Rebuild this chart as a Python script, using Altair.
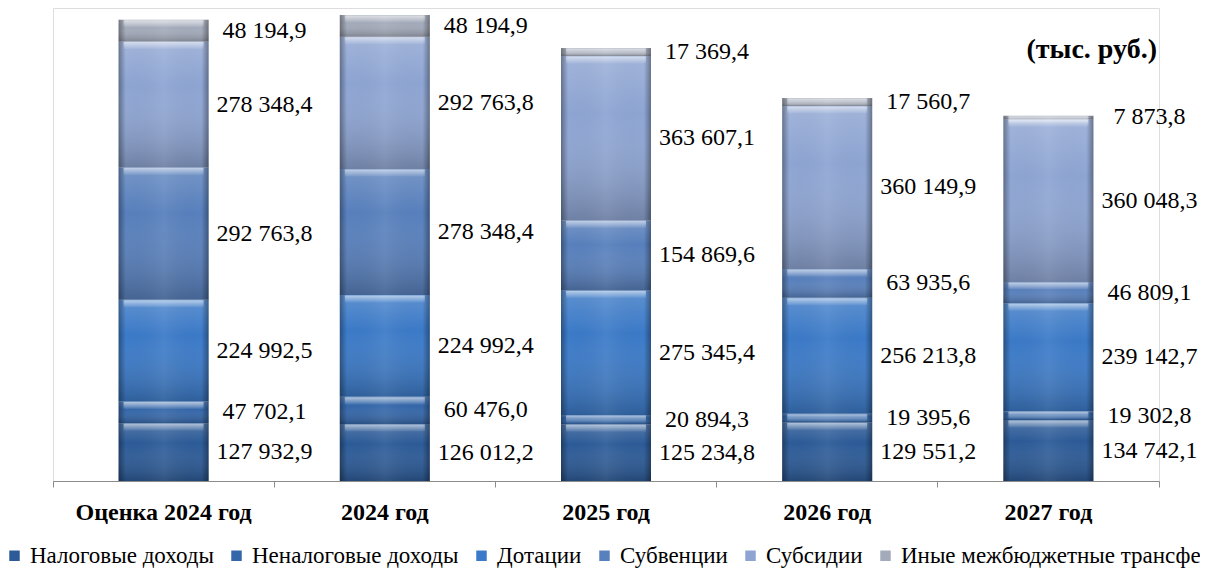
import altair as alt
import pandas as pd

categories = ["Оценка 2024 год", "2024 год", "2025 год", "2026 год", "2027 год"]
series = ["Налоговые доходы", "Неналоговые доходы", "Дотации", "Субвенции",
          "Субсидии", "Иные межбюджетные трансферты"]

nalog = [127932.9, 126012.2, 125234.8, 129551.2, 134742.1]
nenalog = [47702.1, 60476.0, 20894.3, 19395.6, 19302.8]
dotacii = [224992.5, 224992.4, 275345.4, 256213.8, 239142.7]
subvencii = [292763.8, 278348.4, 154869.6, 63935.6, 46809.1]
subsidii = [278348.4, 292763.8, 363607.1, 360149.9, 360048.3]
inye = [48194.9, 48194.9, 17369.4, 17560.7, 7873.8]
values = [nalog, nenalog, dotacii, subvencii, subsidii, inye]

colors = ["#2c5b98", "#3467aa", "#3b7ac8", "#5880bd", "#8ea5d3", "#a3aaba"]
unit_note = "(тыс. руб.)"


def fmt(v):
    return f"{v:,.1f}".replace(",", " ").replace(".", ",")


rows = []
for i, s in enumerate(series):
    for j, c in enumerate(categories):
        rows.append({"cat": c, "series": s, "idx": i, "value": values[i][j],
                     "label": fmt(values[i][j])})
df = pd.DataFrame(rows)

FONT = "Liberation Serif, Times New Roman, serif"

base = alt.Chart(df).transform_stack(
    stack="value", groupby=["cat"], as_=["y0", "y1"],
    sort=[alt.SortField("idx", order="ascending")]
).transform_calculate(mid="(datum.y0 + datum.y1) / 2")

xenc = alt.X("cat:N", sort=categories,
             scale=alt.Scale(paddingInner=0, paddingOuter=0),
             axis=alt.Axis(title=None, labelAngle=0, labelFont=FONT, labelFontSize=24,
                           labelFontWeight="bold", labelColor="black", labelPadding=13,
                           domainColor="#8c8c8c", tickColor="#8c8c8c", tickSize=6,
                           bandPosition=1, tickExtra=True, grid=False))
yscale = alt.Scale(domain=[0, 1046000], nice=False, zero=True)
yenc = alt.Y("y0:Q", scale=yscale, axis=None)
y2enc = alt.Y2("y1:Q")

bars = base.mark_bar(width=90).encode(
    x=xenc, y=yenc, y2=y2enc,
    color=alt.Color("series:N", scale=alt.Scale(domain=series, range=colors),
                    legend=alt.Legend(title=None, orient="none", legendX=-50, legendY=536,
                                      direction="horizontal", symbolType="square",
                                      symbolSize=110, symbolStrokeWidth=0,
                                      labelFont=FONT, labelFontSize=23, labelColor="black",
                                      labelLimit=700, columnPadding=11, labelOffset=4)),
    order=alt.Order("idx:Q", sort="ascending"),
)

grad_v = alt.Gradient(gradient="linear", x1=0, y1=0, x2=0, y2=1, stops=[
    alt.GradientStop(color="rgba(255,255,255,0.18)", offset=0),
    alt.GradientStop(color="rgba(255,255,255,0.0)", offset=0.35),
    alt.GradientStop(color="rgba(0,0,0,0.22)", offset=1),
])
shade_v = base.mark_bar(width=90, fill=grad_v).encode(x=xenc, y=yenc, y2=y2enc)

grad_h = alt.Gradient(gradient="linear", x1=0, y1=0, x2=1, y2=0, stops=[
    alt.GradientStop(color="rgba(0,0,0,0.35)", offset=0),
    alt.GradientStop(color="rgba(0,0,0,0.0)", offset=0.08),
    alt.GradientStop(color="rgba(255,255,255,0.06)", offset=0.5),
    alt.GradientStop(color="rgba(0,0,0,0.0)", offset=0.92),
    alt.GradientStop(color="rgba(0,0,0,0.35)", offset=1),
])
shade_h = base.mark_bar(width=90, fill=grad_h).encode(x=xenc, y=yenc, y2=y2enc)

grad_hl = alt.Gradient(gradient="linear", x1=0, y1=0, x2=0, y2=1, stops=[
    alt.GradientStop(color="rgba(255,255,255,0.55)", offset=0),
    alt.GradientStop(color="rgba(255,255,255,0.05)", offset=1),
])
highlight = base.mark_tick(thickness=7, size=80, fill=grad_hl, opacity=1, yOffset=4).encode(
    x=xenc, y=alt.Y("y1:Q", scale=yscale, axis=None))

labels = base.mark_text(font=FONT, fontSize=24, dx=101, align="center",
                        baseline="middle", color="black").encode(
    x=xenc, y=alt.Y("mid:Q", scale=yscale, axis=None), text="label:N")

note = alt.Chart(pd.DataFrame({"t": [unit_note]})).mark_text(
    font=FONT, fontSize=28, fontWeight="bold", align="right", baseline="middle",
    color="black").encode(text="t:N", x=alt.value(1104), y=alt.value(42))

chart = alt.layer(bars, shade_v, shade_h, highlight, labels, note).properties(
    width=1106, height=473,
    autosize=alt.AutoSizeParams(type="none"),
    padding={"left": 45, "top": 0, "right": 41, "bottom": 93},
).configure_view(stroke=None).configure(background="white")

chart.save("out.html", embed_options={"renderer": "svg", "actions": False})
